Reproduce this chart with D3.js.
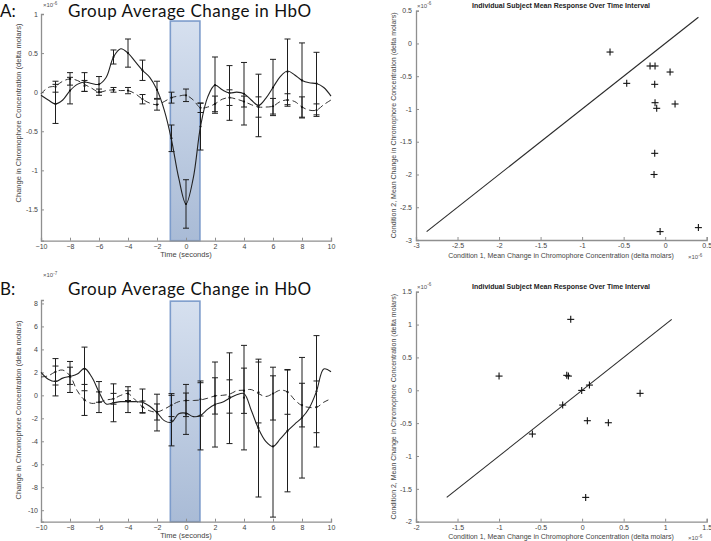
<!DOCTYPE html>
<html><head><meta charset="utf-8">
<script src="https://cdn.jsdelivr.net/npm/d3@7"></script>
<style>body{margin:0;background:#fff} svg{display:block}</style>
</head><body><svg id="c" width="711" height="541"></svg>
<script>
// ---------- DATA ----------
const errTime = [-9,-8,-7,-6,-5,-4,-3,-2,-1,0,1,2,3,4,5,6,7,8,9];
const curveTime = [-10,-9.5,-9,-8.5,-8,-7.5,-7,-6.5,-6,-5.5,-5,-4.5,-4,-3.5,-3,-2.5,-2,-1.5,-1,-0.5,0,0.5,1,1.5,2,2.5,3,3.5,4,4.5,5,5.5,6,6.5,7,7.5,8,8.5,9,9.5,10];

// Panel A (x10^-6)
const solidMeanA = [-0.15,0.02,0.13,0.10,0.45,0.50,0.28,0.03,-0.59,-1.43,-0.44,0.09,-0.01,-0.02,-0.17,0.06,0.26,0.15,0.11];
const solidErrA  = [0.25,0.17,0.12,0.10,0.09,0.18,0.13,0.11,0.17,0.31,0.30,0.36,0.35,0.40,0.40,0.36,0.42,0.48,0.40];
const dashMeanA  = [0.07,0.17,0.08,0.00,0.03,0.02,-0.09,-0.16,-0.07,-0.04,-0.20,-0.15,-0.07,-0.12,-0.19,-0.18,-0.10,-0.19,-0.23];
const dashErrA   = [0.07,0.08,0.07,0.04,0.03,0.04,0.06,0.07,0.07,0.08,0.06,0.10,0.10,0.07,0.13,0.10,0.08,0.13,0.08];
const solidCurveA = [-0.04,-0.10,-0.15,-0.10,0.02,0.10,0.13,0.11,0.10,0.19,0.45,0.555,0.50,0.39,0.28,0.19,0.03,-0.23,-0.61,-1.10,-1.43,-1.10,-0.44,-0.06,0.09,0.03,-0.01,0.00,-0.02,-0.10,-0.17,-0.08,0.06,0.20,0.27,0.22,0.15,0.12,0.11,0.06,-0.05];
const dashCurveA  = [-0.02,0.06,0.08,0.14,0.17,0.15,0.10,0.05,0.00,0.02,0.03,0.02,0.02,-0.02,-0.09,-0.14,-0.16,-0.12,-0.07,-0.05,-0.04,-0.10,-0.20,-0.19,-0.15,-0.09,-0.07,-0.09,-0.12,-0.16,-0.19,-0.19,-0.18,-0.12,-0.10,-0.12,-0.19,-0.23,-0.23,-0.16,-0.10];

// Panel B (x10^-7)
const solidMeanB = [1.25,1.60,2.30,0.30,-0.65,-0.55,-0.50,-1.50,-2.20,-1.60,-1.75,-0.80,-0.25,-0.20,-2.85,-4.45,-3.10,-1.95,0.35];
const solidErrB  = [1.30,1.35,1.90,0.90,1.65,0.95,1.05,1.60,2.20,1.80,3.00,3.70,3.95,4.55,6.00,6.15,5.30,5.25,4.85];
const dashMeanB  = [2.05,1.70,-0.40,-0.60,-0.30,0.15,-1.00,-1.45,-0.85,-0.45,-0.35,-0.05,-0.10,0.40,0.25,0.15,0.30,-0.85,-1.00];
const dashErrB   = [1.15,0.75,1.35,0.90,0.47,0.60,0.50,0.70,1.00,1.40,1.45,1.58,1.45,1.97,2.65,2.30,1.95,1.90,2.25];
const solidCurveB = [2.0,1.4,1.2,1.5,1.65,1.85,2.35,1.6,0.3,-0.75,-0.65,-0.55,-0.55,-0.55,-0.6,-0.95,-1.5,-2.2,-2.35,-1.6,-1.55,-1.85,-1.75,-1.2,-0.8,-0.6,-0.25,0.05,0.15,-1.3,-2.9,-4.0,-4.45,-3.8,-3.1,-2.5,-1.95,-1.1,0.35,2.3,2.05];
const dashCurveB  = [1.6,1.7,2.05,2.2,1.7,0.4,-0.4,-0.7,-0.6,-0.4,-0.3,0.0,0.15,-0.4,-1.0,-1.35,-1.45,-1.2,-0.85,-0.55,-0.45,-0.45,-0.4,-0.25,-0.05,0.0,0.1,0.4,0.45,0.5,0.15,-0.1,0.15,0.45,0.3,-0.4,-0.9,-1.05,-1.05,-0.6,-0.3];

// Scatter A (x10^-6)
const scatterAx = [-0.664,-0.182,-0.122,0.059,-0.463,-0.126,-0.122,-0.102,0.119,-0.126,-0.134,-0.061,0.400];
const scatterAy = [-0.131,-0.344,-0.344,-0.436,-0.609,-0.624,-0.904,-0.990,-0.924,-1.677,-2.000,-2.872,-2.811];
// Scatter B (x10^-6)
const scatterBx = [-0.137,-1.000,-0.185,-0.165,-0.005,0.088,0.698,-0.234,-0.599,0.063,0.316,0.043];
const scatterBy = [1.079,0.216,0.227,0.216,-0.002,0.079,-0.047,-0.225,-0.666,-0.463,-0.494,-1.630];

// Ticks & labels
const timeTicks = [-10,-8,-6,-4,-2,0,2,4,6,8,10];
const yTicksA = [-1.5,-1,-0.5,0,0.5,1];
const yTicksB = [-10,-8,-6,-4,-2,0,2,4,6,8];
const scatTicksA = [-3,-2.5,-2,-1.5,-1,-0.5,0,0.5];
const scatTicksB = [-2,-1.5,-1,-0.5,0,0.5,1,1.5];
const panelTitle = "Group Average Change in HbO";
const scatTitle = "Individual Subject Mean Response Over Time Interval";
const timeLabel = "Time (seconds)";
const timeYLabel = "Change in Chromophore Concentration (delta molars)";
const scatXLabel = "Condition 1, Mean Change in Chromophore Concentration (delta molars)";
const scatYLabel = "Condition 2, Mean Change in Chromophore Concentration (delta molars)";
const stimWindow = [-1.08, 0.96];

// ---------- DRAW ----------
const svg = d3.select('#c');
svg.append('rect').attr('width',711).attr('height',541).attr('fill','#fff');
const defs = svg.append('defs');
const grad = defs.append('linearGradient').attr('id','stim').attr('x1',0).attr('y1',0).attr('x2',0).attr('y2',1);
grad.append('stop').attr('offset','0%').attr('stop-color','#d6e0ef');
grad.append('stop').attr('offset','100%').attr('stop-color','#a9bbd6');

const AX = '#8f8f8f';
const F = "'Liberation Sans', Arial, sans-serif";
const HF = 'Lato, "Open Sans", sans-serif';

function styleAxis(g){
  g.select('.domain').attr('stroke',AX).attr('stroke-width',1.3);
  g.selectAll('.tick line').attr('stroke',AX).attr('stroke-width',1);
  g.selectAll('.tick text').attr('fill','#444').attr('font-family',F).attr('font-size',7);
}
function expLabel(x,y,e,anchor){
  const t = svg.append('text').attr('x',x).attr('y',y).attr('font-family',F).attr('font-size',6)
    .attr('fill','#555').attr('text-anchor',anchor||'start');
  t.append('tspan').text('\u00d710');
  t.append('tspan').attr('dy',-2.5).attr('font-size',4.5).text(e);
}

function timePanel(o){
  const x = d3.scaleLinear().domain([-10,10]).range([41,331]);
  const y = d3.scaleLinear().domain(o.ydom).range(o.yrange);
  const g = svg.append('g');
  // stimulus window
  g.append('rect').attr('x',x(stimWindow[0])).attr('width',x(stimWindow[1])-x(stimWindow[0]))
    .attr('y',y(o.stimTop)).attr('height',y(o.ydom[0])-y(o.stimTop))
    .attr('fill','url(#stim)').attr('stroke','#7d9ccb').attr('stroke-width',1.6);
  // axes
  const gx = g.append('g').attr('transform',`translate(0,${o.yrange[0]})`)
    .call(d3.axisBottom(x).tickValues(timeTicks).tickSize(-3).tickPadding(3).tickFormat(d3.format('')));
  styleAxis(gx);
  const gy = g.append('g').attr('transform','translate(41,0)')
    .call(d3.axisLeft(y).tickValues(o.yticks).tickSize(-3).tickPadding(3).tickFormat(d=>String(d)));
  styleAxis(gy);
  // curves
  const line = d3.line().x((d,i)=>x(curveTime[i])).y(d=>y(d)).curve(d3.curveCatmullRom.alpha(0.5));
  g.append('path').datum(o.dashCurve).attr('d',line).attr('fill','none').attr('stroke','#333')
    .attr('stroke-width',1).attr('stroke-dasharray','6,3.5');
  g.append('path').datum(o.solidCurve).attr('d',line).attr('fill','none').attr('stroke','#222').attr('stroke-width',1.1);
  // error bars
  const series = [[o.solidMean,o.solidErr],[o.dashMean,o.dashErr]];
  series.forEach(([m,e])=>{
    const eg = g.append('g').attr('stroke','#1e1e1e').attr('stroke-width',1);
    errTime.forEach((t,i)=>{
      const xc = x(t), y1 = y(m[i]+e[i]), y2 = y(m[i]-e[i]);
      eg.append('line').attr('x1',xc).attr('x2',xc).attr('y1',y1).attr('y2',y2);
      eg.append('line').attr('x1',xc-3).attr('x2',xc+3).attr('y1',y1).attr('y2',y1);
      eg.append('line').attr('x1',xc-3).attr('x2',xc+3).attr('y1',y2).attr('y2',y2);
    });
    g.selectAll(null).data(m).enter().append('circle').attr('cx',(d,i)=>x(errTime[i])).attr('cy',d=>y(d))
      .attr('r',1.1).attr('fill','#111');
  });
  // labels
  g.append('text').attr('x',186).attr('y',o.xlabY).attr('text-anchor','middle').attr('font-family',F)
    .attr('font-size',7.5).attr('fill','#444').text(timeLabel);
  g.append('text').attr('transform',`translate(21,${o.ylabC}) rotate(-90)`).attr('text-anchor','middle')
    .attr('font-family',F).attr('font-size',7.5).attr('fill','#444').text(timeYLabel);
  expLabel(43,o.expY,o.exp);
  // header
  svg.append('text').attr('x',0).attr('y',o.headY).attr('font-family',HF)
    .attr('font-size',17).attr('fill','#111').text(o.letter);
  svg.append('text').attr('x',68).attr('y',o.headY).attr('font-family',HF)
    .attr('font-size',17).attr('letter-spacing',0.5).attr('fill','#111').text(panelTitle);
}

function scatterPanel(o){
  const x = d3.scaleLinear().domain(o.dom).range([416,706.7]);
  const y = d3.scaleLinear().domain(o.dom).range(o.yrange);
  const g = svg.append('g');
  const gx = g.append('g').attr('transform',`translate(0,${o.yrange[0]})`)
    .call(d3.axisBottom(x).tickValues(o.ticks).tickSize(-3).tickPadding(3).tickFormat(d=>String(d)));
  styleAxis(gx);
  const gy = g.append('g').attr('transform','translate(416,0)')
    .call(d3.axisLeft(y).tickValues(o.ticks).tickSize(-3).tickPadding(4).tickFormat(d=>String(d)));
  styleAxis(gy);
  const all = o.xs.concat(o.ys);
  const lo = d3.min(all), hi = d3.max(all);
  g.append('line').attr('x1',x(lo)).attr('y1',y(lo)).attr('x2',x(hi)).attr('y2',y(hi))
    .attr('stroke','#2a2a2a').attr('stroke-width',1.1);
  const pg = g.append('g').attr('stroke','#111').attr('stroke-width',1.1);
  o.xs.forEach((xv,i)=>{
    const cx = x(xv), cy = y(o.ys[i]);
    pg.append('line').attr('x1',cx-3.5).attr('x2',cx+3.5).attr('y1',cy).attr('y2',cy);
    pg.append('line').attr('x1',cx).attr('x2',cx).attr('y1',cy-3.5).attr('y2',cy+3.5);
  });
  g.append('text').attr('x',561).attr('y',o.titleY).attr('text-anchor','middle').attr('font-family',F)
    .attr('font-size',7).attr('font-weight','bold').attr('fill','#222').text(scatTitle);
  g.append('text').attr('x',561).attr('y',o.xlabY).attr('text-anchor','middle').attr('font-family',F)
    .attr('font-size',7).attr('fill','#444').text(scatXLabel);
  g.append('text').attr('transform',`translate(396,${(o.yrange[0]+o.yrange[1])/2}) rotate(-90)`).attr('text-anchor','middle')
    .attr('font-family',F).attr('font-size',7).attr('fill','#444').text(scatYLabel);
  expLabel(417,o.yrange[1]-3,'-6');
  expLabel(688,o.xlabY+1,'-6');
}

timePanel({letter:'A:', ydom:[-1.9,1], yrange:[240.7,14], stimTop:0.91, yticks:yTicksA,
  solidMean:solidMeanA, solidErr:solidErrA, dashMean:dashMeanA, dashErr:dashErrA,
  solidCurve:solidCurveA, dashCurve:dashCurveA, xlabY:257, ylabC:113, expY:7, exp:'-6', headY:16.9});
timePanel({letter:'B:', ydom:[-11,8.3], yrange:[521.7,300], stimTop:8.2, yticks:yTicksB,
  solidMean:solidMeanB, solidErr:solidErrB, dashMean:dashMeanB, dashErr:dashErrB,
  solidCurve:solidCurveB, dashCurve:dashCurveB, xlabY:538, ylabC:410, expY:277, exp:'-7', headY:295});
scatterPanel({dom:[-3,0.5], yrange:[240,10.7], ticks:scatTicksA, xs:scatterAx, ys:scatterAy, titleY:7.5, xlabY:258});
scatterPanel({dom:[-2,1.5], yrange:[521.7,291.7], ticks:scatTicksB, xs:scatterBx, ys:scatterBy, titleY:288.5, xlabY:539});
</script></body></html>
